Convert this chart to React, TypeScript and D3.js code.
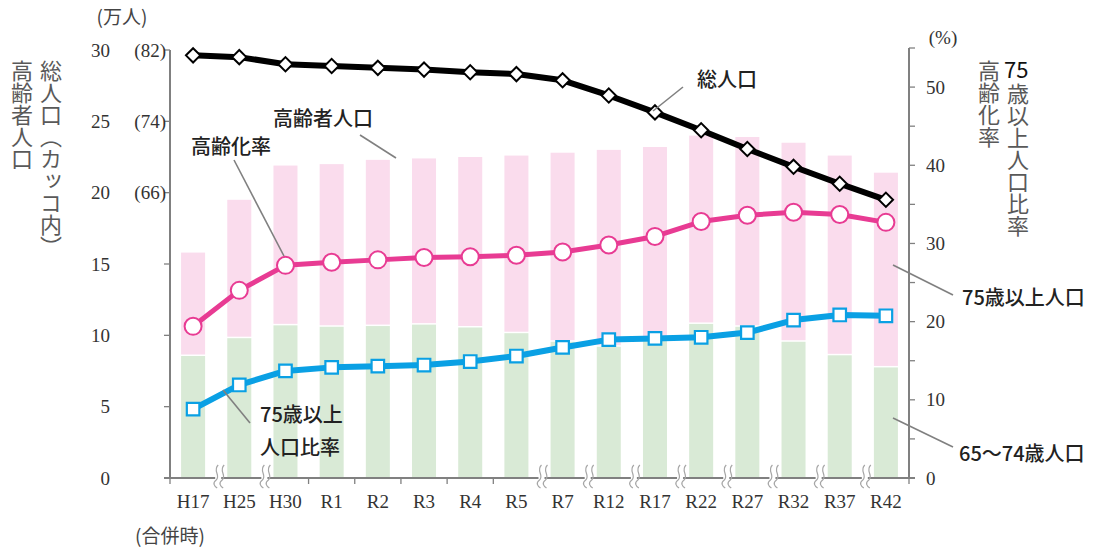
import React from "react";
import * as d3 from "d3";

// 年次（H17は合併時）
const years = ["H17", "H25", "H30", "R1", "R2", "R3", "R4", "R5", "R7", "R12", "R17", "R22", "R27", "R32", "R37", "R42"];

// 高齢者人口（万人）= 65～74歳 + 75歳以上
const elderlyTotal = [15.8, 19.5, 21.9, 22.0, 22.3, 22.4, 22.5, 22.6, 22.8, 23.0, 23.2, 24.0, 23.9, 23.5, 22.6, 21.4];
const age65to74 = [8.55, 9.8, 10.7, 10.6, 10.65, 10.75, 10.55, 10.15, 9.55, 9.2, 9.7, 10.8, 10.6, 9.55, 8.6, 7.75];

// 総人口（万人）
const totalPop = [81.4, 81.2, 80.4, 80.2, 80.0, 79.8, 79.5, 79.3, 78.6, 76.9, 75.0, 73.0, 70.9, 68.9, 67.0, 65.2];

// 高齢化率・75歳以上人口比率（%）
const agingRate = [19.4, 24.0, 27.2, 27.6, 27.9, 28.2, 28.3, 28.5, 28.9, 29.8, 30.9, 32.8, 33.6, 34.0, 33.7, 32.7];
const over75Rate = [8.8, 11.9, 13.7, 14.15, 14.3, 14.45, 14.9, 15.6, 16.7, 17.7, 17.85, 18.0, 18.6, 20.2, 20.85, 20.75];

const leftTicks = [0, 5, 10, 15, 20, 25, 30];
const parenTicks = [[30, "(82)"], [25, "(74)"], [20, "(66)"]] as [number, string][];
const rightTicks = [0, 5, 10, 15, 20, 25, 30, 35, 40, 45, 50, 55];
// 軸の省略記号を入れる区切り（何番目の境界か）
const breaks = [1, 2, 8, 9, 10, 11, 12, 13, 14, 15];

const W = 1094;
const H = 547;
const left = 170;
const right = 909;
const bottom = 478;

const serif = "'Liberation Serif', 'DejaVu Serif', serif";
const jp = "'Noto Sans CJK JP', 'Noto Sans', sans-serif";

const App = () => {
  const x = d3.scaleBand<string>().domain(years).range([left, right]).paddingInner(0.48).paddingOuter(0.24);
  const yL = d3.scaleLinear().domain([0, 30]).range([bottom, 50]);
  const yTot = d3.scaleLinear().domain([34, 82]).range([bottom, 50]);
  const yR = d3.scaleLinear().domain([0, 55]).range([bottom, 48]);
  const cx = (d: string) => (x(d) as number) + x.bandwidth() / 2;
  const step = x.step();

  const totLine = d3.line<number>().x((_, i) => cx(years[i])).y((d) => yTot(d));
  const rLine = d3.line<number>().x((_, i) => cx(years[i])).y((d) => yR(d));

  const boundaries = d3.range(0, years.length + 1).map((i) => left + i * step);

  const breakMark = (bx: number) => {
    const xs = [bx - 1, bx + 5];
    return (
      <g key={"b" + bx}>
        <rect x={bx - 2} y={bottom - 3} width={6} height={6} fill="#fff" />
        {xs.map((p, k) => (
          <path
            key={k}
            d={`M${p + 2},${bottom - 13} C${p - 4},${bottom - 7} ${p + 5},${bottom - 3} ${p},${bottom + 2} C${p - 4},${bottom + 5} ${p - 2},${bottom + 8} ${p + 1},${bottom + 10}`}
            fill="none"
            stroke="#a6a6a6"
            strokeWidth={1.2}
          />
        ))}
      </g>
    );
  };

  const diamond = d3.symbol().type(d3.symbolDiamond2).size(130)();
  const square = d3.symbol().type(d3.symbolSquare2).size(200)();

  return (
    <svg width={W} height={H} style={{ position: "absolute", left: 0, top: 0 }} fontFamily={serif}>
      <rect width={W} height={H} fill="#fff" />

      {/* 棒：65～74歳（緑）と75歳以上（ピンク） */}
      {years.map((d, i) => (
        <g key={d}>
          <rect x={x(d)} y={yL(elderlyTotal[i])} width={x.bandwidth()} height={yL(age65to74[i]) - yL(elderlyTotal[i]) - 1.5} fill="#fadced" />
          <rect x={x(d)} y={yL(age65to74[i])} width={x.bandwidth()} height={bottom - yL(age65to74[i])} fill="#d9ead6" />
        </g>
      ))}

      {/* 軸 */}
      <g stroke="#808080" strokeWidth={2} fill="none">
        <line x1={left} x2={left} y1={50} y2={bottom} />
        <line x1={right} x2={right} y1={48} y2={bottom} />
        <line x1={left - 6} x2={right + 6} y1={bottom} y2={bottom} />
        {leftTicks.map((t) => (
          <line key={t} x1={left - 6} x2={left} y1={yL(t)} y2={yL(t)} strokeWidth={1.3} />
        ))}
        {rightTicks.map((t) => (
          <line key={t} x1={right} x2={right + 6} y1={yR(t)} y2={yR(t)} strokeWidth={1.3} />
        ))}
        {boundaries.map((b, i) =>
          breaks.includes(i) ? null : <line key={i} x1={b} x2={b} y1={bottom} y2={bottom + 6} strokeWidth={1.3} />
        )}
      </g>
      {breaks.map((i) => breakMark(boundaries[i] + 1))}

      {/* 目盛ラベル */}
      <g fontSize={19} fill="#333">
        {leftTicks.map((t) => (
          <text key={t} x={110} y={yL(t)} dy="0.35em" textAnchor="end">{t}</text>
        ))}
        {parenTicks.map(([t, s]) => (
          <text key={s} x={166} y={yL(t)} dy="0.35em" textAnchor="end">{s}</text>
        ))}
        {rightTicks.filter((t) => t % 10 === 0).map((t) => (
          <text key={t} x={926} y={yR(t)} dy="0.35em">{t}</text>
        ))}
        {years.map((d) => (
          <text key={d} x={cx(d)} y={508} textAnchor="middle">{d}</text>
        ))}
        <text x={170} y={543} textAnchor="middle" fontFamily={jp} fill="#444" fontSize={19}>(合併時)</text>
        <text x={122} y={24} textAnchor="middle" fontFamily={jp} fill="#444" fontSize={19}>(万人)</text>
        <text x={943} y={44} textAnchor="middle">(%)</text>
      </g>

      {/* 線：総人口 */}
      <path d={totLine(totalPop) as string} fill="none" stroke="#000" strokeWidth={6} strokeLinejoin="round" />
      {totalPop.map((d, i) => (
        <path key={i} d={diamond as string} transform={`translate(${cx(years[i])},${yTot(d)})`} fill="#fff" stroke="#000" strokeWidth={2} />
      ))}

      {/* 線：高齢化率 */}
      <path d={rLine(agingRate) as string} fill="none" stroke="#e83b93" strokeWidth={5} strokeLinejoin="round" />
      {agingRate.map((d, i) => (
        <circle key={i} cx={cx(years[i])} cy={yR(d)} r={8.5} fill="#fff" stroke="#e83b93" strokeWidth={2} />
      ))}

      {/* 線：75歳以上人口比率 */}
      <path d={rLine(over75Rate) as string} fill="none" stroke="#0aa0e4" strokeWidth={6} strokeLinejoin="round" />
      {over75Rate.map((d, i) => (
        <path key={i} d={square as string} transform={`translate(${cx(years[i])},${yR(d)})`} fill="#fff" stroke="#0aa0e4" strokeWidth={2.2} />
      ))}

      {/* 引き出し線 */}
      <g stroke="#808080" strokeWidth={1.6}>
        <line x1={683} y1={87} x2={653} y2={111} />
        <line x1={360} y1={135} x2={396} y2={158} />
        <line x1={234} y1={160} x2={284} y2={256} />
        <line x1={250} y1={423} x2={223} y2={390} />
        <line x1={893} y1={265} x2={953} y2={295} />
        <line x1={893} y1={418} x2={953} y2={447} />
      </g>

      {/* 系列ラベル */}
      <g fontFamily={jp} fontSize={20} fontWeight={500} fill="#222">
        <text x={697} y={87}>総人口</text>
        <text x={273} y={126}>高齢者人口</text>
        <text x={191} y={154}>高齢化率</text>
        <text x={260} y={422}>75歳以上</text>
        <text x={260} y={455}>人口比率</text>
        <text x={962} y={305}>75歳以上人口</text>
        <text x={959} y={461}>65～74歳人口</text>
      </g>

      {/* 軸タイトル（縦書き） */}
      <g fontFamily={jp} fontSize={22} fill="#595959">
        <text x={22} y={60} style={{ writingMode: "vertical-rl" }}>高齢者人口</text>
        <text x={51} y={60} style={{ writingMode: "vertical-rl" }}>総人口（カッコ内）</text>
        <text x={989} y={60} style={{ writingMode: "vertical-rl" }}>高齢化率</text>
        <text x={1004} y={78} fill="#111" fontSize={22}>75</text>
        <text x={1018} y={83} style={{ writingMode: "vertical-rl" }}>歳以上人口比率</text>
      </g>
    </svg>
  );
};

export default App;
